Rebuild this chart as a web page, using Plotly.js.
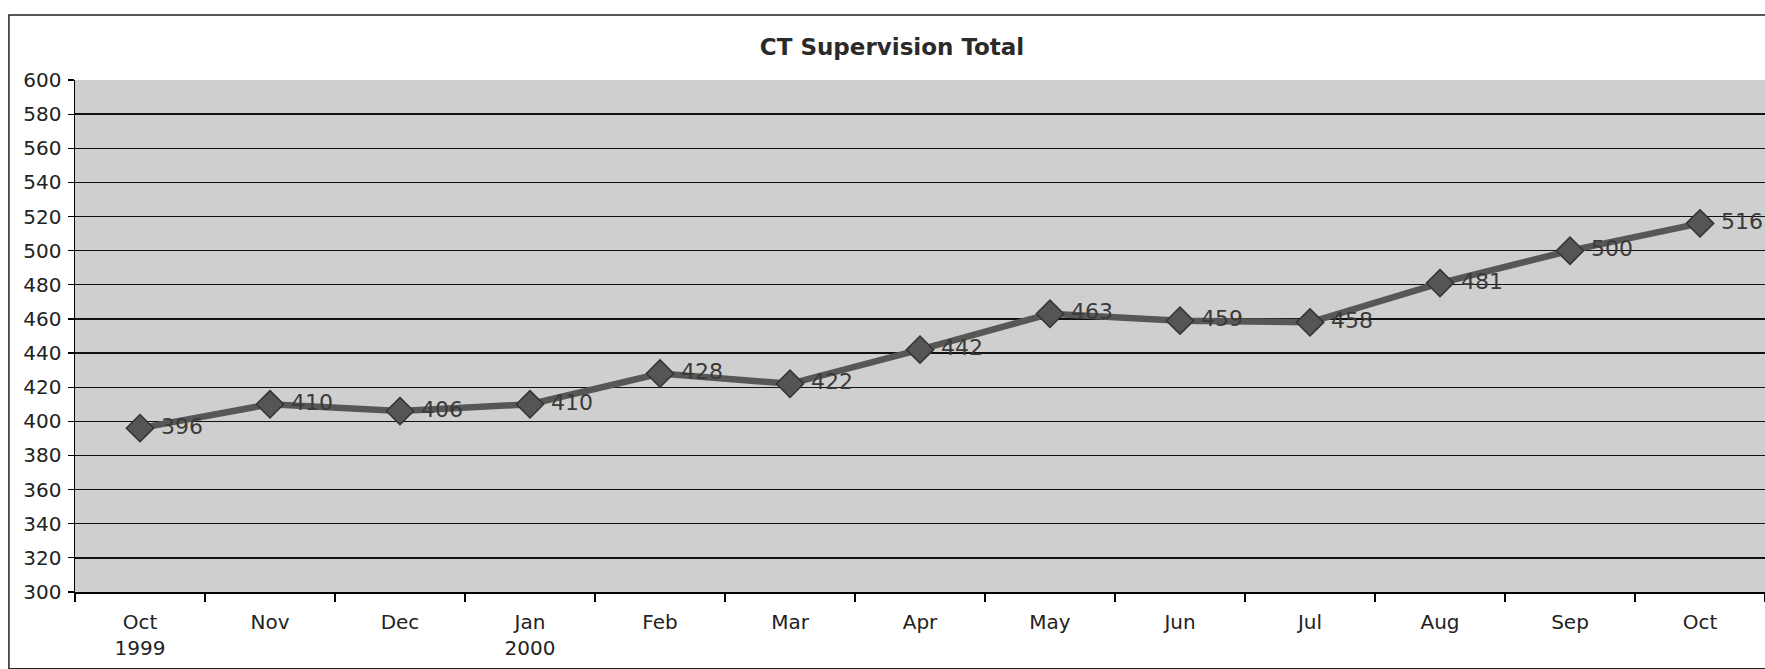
<!DOCTYPE html>
<html>
<head>
<meta charset="utf-8">
<script src="https://cdn.plot.ly/plotly-3.0.1.min.js"></script>
<style>
html,body{margin:0;padding:0;background:#fff;}
#chart{width:1765px;height:669px;}
</style>
</head>
<body>
<div id="chart"></div>
<script>
const categories = ["Oct 1999","Nov 1999","Dec 1999","Jan 2000","Feb 2000","Mar 2000","Apr 2000","May 2000","Jun 2000","Jul 2000","Aug 2000","Sep 2000","Oct 2000"];
const tickLabels = ["Oct<br>1999","Nov","Dec","Jan<br>2000","Feb","Mar","Apr","May","Jun","Jul","Aug","Sep","Oct"];
const totals = [396, 410, 406, 410, 428, 422, 442, 463, 459, 458, 481, 500, 516];
const yTicks = [300,320,340,360,380,400,420,440,460,480,500,520,540,560,580,600];

const font = "DejaVu Sans, Liberation Sans, Arial, sans-serif";

const trace = {
  x: categories,
  y: totals,
  type: "scatter",
  mode: "lines+markers+text",
  text: totals.map(v => "\u00a0" + v),
  textposition: "middle right",
  textfont: {family: font, size: 22, color: "#3a3a3a"},
  cliponaxis: false,
  line: {color: "#575757", width: 6.5},
  marker: {symbol: "diamond", size: 21, color: "#555555", line: {color: "#333333", width: 1.5}},
  hoverinfo: "x+y"
};

const layout = {
  width: 1765,
  height: 669,
  margin: {l: 75, r: 0, t: 80, b: 77},
  paper_bgcolor: "#ffffff",
  plot_bgcolor: "#cfcfcf",
  showlegend: false,
  title: {
    text: "<b>CT Supervision Total</b>",
    font: {family: font, size: 23, color: "#2a2a2a"},
    x: 0.5054, xref: "container", xanchor: "center",
    y: 0.93, yref: "container", yanchor: "middle"
  },
  xaxis: {
    type: "category",
    range: [-0.5, 12.5],
    tickvals: categories,
    ticktext: tickLabels,
    tickson: "boundaries",
    ticks: "outside",
    ticklen: 8,
    tickwidth: 1.2,
    tickcolor: "#000",
    showline: true,
    linecolor: "#000",
    linewidth: 1.5,
    showgrid: false,
    zeroline: false,
    ticklabelstandoff: 11,
    tickfont: {family: font, size: 20, color: "#222"}
  },
  yaxis: {
    range: [300, 600],
    tickvals: yTicks,
    ticks: "outside",
    ticklen: 6,
    tickwidth: 1.2,
    tickcolor: "#000",
    showline: true,
    linecolor: "#000",
    linewidth: 1.5,
    showgrid: true,
    gridcolor: "#111",
    gridwidth: 1.3,
    zeroline: false,
    ticklabelstandoff: 2,
    tickfont: {family: font, size: 20, color: "#222"}
  },
  shapes: [{
    type: "rect", xref: "paper", yref: "paper",
    x0: -0.0391, x1: 1.02, y0: -0.15, y1: 1.127,
    line: {color: "#222", width: 1.5}, fillcolor: "rgba(0,0,0,0)", layer: "below"
  }]
};

Plotly.newPlot("chart", [trace], layout, {displayModeBar: false, staticPlot: true});
</script>
</body>
</html>
